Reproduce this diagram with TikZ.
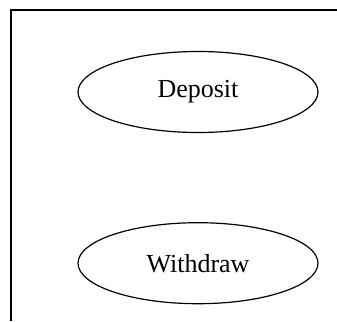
\documentclass[tikz,border=0pt]{standalone}
\usepackage{fontspec}
\setmainfont{Liberation Serif}
\usetikzlibrary{shapes.geometric,positioning}

\begin{document}
\begin{tikzpicture}[
          x=1pt, y=-1pt,
          usecase/.style={ellipse, draw, line width=1.2pt, minimum width=240pt,
                          minimum height=81pt, inner sep=0pt,
                          font=\fontsize{26}{30}\selectfont},
          node distance=89pt
        ]
        \useasboundingbox (0,0) rectangle (337,321);

        % Frame
        \draw[line width=1.2pt] (11,321) -- (11,10) -- (337,10);

        % Use cases
        \node[usecase] (deposit) at (198,92) {Deposit};
        \node[usecase, below=of deposit] (withdraw) {Withdraw};

      \end{tikzpicture}
\end{document}
